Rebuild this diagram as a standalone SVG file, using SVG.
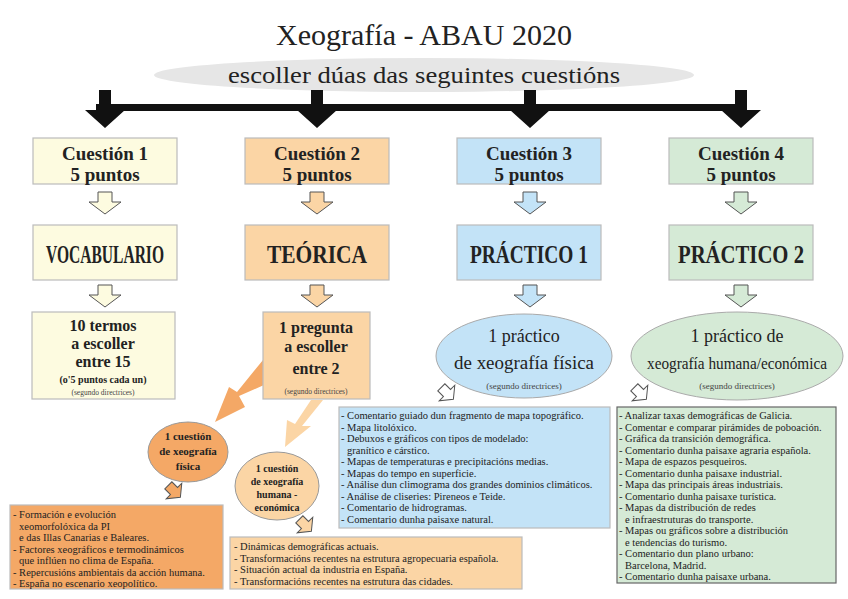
<svg xmlns="http://www.w3.org/2000/svg" width="848" height="599" viewBox="0 0 848 599" font-family="'Liberation Serif', 'DejaVu Serif', serif">
<style>
text{font-family:'Liberation Serif','DejaVu Serif',serif;fill:#222}
.hd{font-size:19px;font-weight:bold;text-anchor:middle}
.big{font-size:25px;font-weight:bold;text-anchor:middle}
.sm{font-size:9px;text-anchor:middle;fill:#444}
.ls{font-size:10.5px}
.box{stroke:#bbb;stroke-width:1.2}
.y{fill:#fdfbe0}.o{fill:#fbd5a5}.b{fill:#c3e3f7}.g{fill:#d5ead6}.do{fill:#f4a866}
.ha{stroke:#555;stroke-width:1}
</style>
<defs>
<path id="dn" d="M-7,-10 H7 V0 H16 L0,12 L-16,0 H-7 Z"/>
<path id="bk" d="M-6,-20 H6 V0 H20 L0,18 L-20,0 H-6 Z"/>
<path id="sl" d="M-5,-8 H5 V0 H11 L0,9 L-11,0 H-5 Z"/>
</defs>
<rect width="848" height="599" fill="#fff"/>
<text x="424" y="45" style="font-size:30px;text-anchor:middle" textLength="296" lengthAdjust="spacingAndGlyphs">Xeografía - ABAU 2020</text>
<ellipse cx="424" cy="75" rx="270" ry="17" fill="#e6e6e6"/>
<text x="424" y="83" style="font-size:23px;text-anchor:middle" textLength="392" lengthAdjust="spacingAndGlyphs">escoller dúas das seguintes cuestións</text>
<g id="connectors">
<rect x="96" y="104" width="650" height="7" fill="#111"/>
<use href="#bk" x="105" y="110" fill="#111"/>
<use href="#bk" x="317" y="110" fill="#111"/>
<use href="#bk" x="530" y="110" fill="#111"/>
<use href="#bk" x="741" y="110" fill="#111"/>
<use href="#dn" x="105" y="202" class="y ha"/>
<use href="#dn" x="317" y="202" class="o ha"/>
<use href="#dn" x="530" y="202" class="b ha"/>
<use href="#dn" x="741" y="202" class="g ha"/>
<use href="#dn" x="105" y="295" class="y ha"/>
<use href="#dn" x="317" y="295" class="o ha"/>
<use href="#dn" x="530" y="295" class="b ha"/>
<use href="#dn" x="741" y="295" class="g ha"/>
<path d="M263,360 L264,385 L239,396 L245,407 L215,422 L229,387 L237,392 Z" class="do"/>
<path d="M323,400 L311,400 L295,424 L287,420 L285,447 L311,426 L302,426 Z" class="o"/>
<use href="#sl" transform="translate(447,393) rotate(-45)" fill="#fff" class="ha"/>
<use href="#sl" transform="translate(640,393) rotate(-45)" fill="#fff" class="ha"/>
<use href="#sl" transform="translate(174,491) rotate(-45)" class="do ha"/>
<use href="#sl" transform="translate(305,525) rotate(-45)" class="o ha"/>
</g>
<g id="q1"><rect x="33" y="138" width="144" height="46" class="box y"/><text x="105" y="160" class="hd">Cuestión 1</text><text x="105" y="181" class="hd">5 puntos</text></g>
<g id="q2"><rect x="245" y="138" width="144" height="46" class="box o"/><text x="317" y="160" class="hd">Cuestión 2</text><text x="317" y="181" class="hd">5 puntos</text></g>
<g id="q3"><rect x="457" y="138" width="144" height="46" class="box b"/><text x="529" y="160" class="hd">Cuestión 3</text><text x="529" y="181" class="hd">5 puntos</text></g>
<g id="q4"><rect x="669" y="138" width="144" height="46" class="box g"/><text x="741" y="160" class="hd">Cuestión 4</text><text x="741" y="181" class="hd">5 puntos</text></g>
<g id="t1"><rect x="33" y="225" width="144" height="55" class="box y"/><text x="105" y="263" class="big" textLength="118" lengthAdjust="spacingAndGlyphs">VOCABULARIO</text></g>
<g id="t2"><rect x="245" y="225" width="144" height="55" class="box o"/><text x="317" y="263" class="big" textLength="100" lengthAdjust="spacingAndGlyphs">TEÓRICA</text></g>
<g id="t3"><rect x="457" y="225" width="144" height="55" class="box b"/><text x="529" y="263" class="big" textLength="118" lengthAdjust="spacingAndGlyphs">PRÁCTICO 1</text></g>
<g id="t4"><rect x="669" y="225" width="144" height="55" class="box g"/><text x="741" y="263" class="big" textLength="126" lengthAdjust="spacingAndGlyphs">PRÁCTICO 2</text></g>
<g id="r1"><rect x="32" y="312" width="143" height="87" class="box y"/>
<text x="103" y="331" class="hd" style="font-size:16px">10 termos</text>
<text x="103" y="349" class="hd" style="font-size:16px">a escoller</text>
<text x="103" y="367" class="hd" style="font-size:16px">entre 15</text>
<text x="103" y="383" class="hd" style="font-size:10px">(o'5 puntos cada un)</text>
<text x="103" y="395" class="sm" style="font-size:7.5px">(segundo directrices)</text></g>
<g id="r2"><rect x="263" y="312" width="107" height="87" class="box o"/>
<text x="316" y="333" class="hd" style="font-size:16px">1 pregunta</text>
<text x="316" y="352" class="hd" style="font-size:16px">a escoller</text>
<text x="316" y="374" class="hd" style="font-size:16px">entre 2</text>
<text x="316" y="394" class="sm" style="font-size:7.5px">(segundo directrices)</text></g>
<g id="r3"><ellipse cx="524" cy="356" rx="88" ry="42" class="b" stroke="#aaa"/>
<text x="524" y="342" class="hd" style="font-size:18px;font-weight:normal">1 práctico</text>
<text x="524" y="369" class="hd" style="font-size:18px;font-weight:normal" textLength="140" lengthAdjust="spacingAndGlyphs">de xeografía física</text>
<text x="524" y="389" class="sm" style="font-size:9px">(segundo directrices)</text></g>
<g id="r4"><ellipse cx="737" cy="356" rx="106" ry="44" class="g" stroke="#aaa"/>
<text x="737" y="342" class="hd" style="font-size:18px;font-weight:normal">1 práctico de</text>
<text x="737" y="369" class="hd" style="font-size:17px;font-weight:normal" textLength="180" lengthAdjust="spacingAndGlyphs">xeografía humana/económica</text>
<text x="737" y="389" class="sm" style="font-size:9px">(segundo directrices)</text></g>
<g id="c1"><ellipse cx="188" cy="452" rx="40" ry="30" class="do" stroke="#999"/>
<text x="188" y="440" class="hd" style="font-size:11px">1 cuestión</text>
<text x="188" y="455" class="hd" style="font-size:11px">de xeografía</text>
<text x="188" y="470" class="hd" style="font-size:11px">física</text></g>
<g id="c2"><ellipse cx="277" cy="486" rx="42" ry="34" class="o" stroke="#999"/>
<text x="277" y="472" class="hd" style="font-size:10px">1 cuestión</text>
<text x="277" y="485" class="hd" style="font-size:10px">de xeografía</text>
<text x="277" y="498" class="hd" style="font-size:10px">humana -</text>
<text x="277" y="511" class="hd" style="font-size:10px">económica</text></g>
<g id="l1"><rect x="10" y="505" width="213" height="84" class="box do" stroke="#c88"/>
<text class="ls" y="518"><tspan x="13">- Formación e evolución</tspan><tspan x="19" dy="11.5">xeomorfolóxica da PI</tspan><tspan x="19" dy="11.5">e das Illas Canarias e Baleares.</tspan><tspan x="13" dy="11.5">- Factores xeográficos e termodinámicos</tspan><tspan x="19" dy="11.5">que inflúen no clima de España.</tspan><tspan x="13" dy="11.5">- Repercusións ambientais da acción humana.</tspan><tspan x="13" dy="11.5">- España no escenario xeopolítico.</tspan></text></g>
<g id="l2"><rect x="230" y="537" width="292" height="52" class="box o"/>
<text class="ls" y="550"><tspan x="234">- Dinámicas demográficas actuais.</tspan><tspan x="234" dy="11.5">- Transformacións recentes na estrutura agropecuaria española.</tspan><tspan x="234" dy="11.5">-  Situación actual da industria en España.</tspan><tspan x="234" dy="11.5">- Transformacións recentes na estrutura das cidades.</tspan></text></g>
<g id="l3"><rect x="339" y="407" width="271" height="121" class="box b"/>
<text class="ls" y="419"><tspan x="341">- Comentario guiado dun fragmento de mapa topográfico.</tspan><tspan x="341" dy="11.5">- Mapa litolóxico.</tspan><tspan x="341" dy="11.5">- Debuxos e gráficos con tipos de modelado:</tspan><tspan x="347" dy="11.5">granítico e cárstico.</tspan><tspan x="341" dy="11.5">- Mapas de temperaturas e precipitacións medias.</tspan><tspan x="341" dy="11.5">- Mapas do tempo en superficie.</tspan><tspan x="341" dy="11.5">- Análise dun climograma dos grandes dominios climáticos.</tspan><tspan x="341" dy="11.5">- Análise de cliseries: Pireneos e Teide.</tspan><tspan x="341" dy="11.5">- Comentario de hidrogramas.</tspan><tspan x="341" dy="11.5">- Comentario dunha paisaxe natural.</tspan></text></g>
<g id="l4"><rect x="617" y="407" width="219" height="176" class="g" stroke="#666" stroke-width="1.2"/>
<text class="ls" y="419"><tspan x="619">- Analizar taxas demográficas de Galicia.</tspan><tspan x="619" dy="11.5">- Comentar e comparar pirámides de poboación.</tspan><tspan x="619" dy="11.5">- Gráfica da transición demográfica.</tspan><tspan x="619" dy="11.5">- Comentario dunha paisaxe agraria española.</tspan><tspan x="619" dy="11.5">- Mapa de espazos pesqueiros.</tspan><tspan x="619" dy="11.5">- Comentario dunha paisaxe industrial.</tspan><tspan x="619" dy="11.5">- Mapa das principais áreas industriais.</tspan><tspan x="619" dy="11.5">- Comentario dunha paisaxe turística.</tspan><tspan x="619" dy="11.5">- Mapas da distribución de redes</tspan><tspan x="625" dy="11.5">e infraestruturas do transporte.</tspan><tspan x="619" dy="11.5">- Mapas ou gráficos sobre a distribución</tspan><tspan x="625" dy="11.5">e tendencias do turismo.</tspan><tspan x="619" dy="11.5">- Comentario dun plano urbano:</tspan><tspan x="625" dy="11.5">Barcelona, Madrid.</tspan><tspan x="619" dy="11.5">- Comentario dunha paisaxe urbana.</tspan></text></g>
</svg>
